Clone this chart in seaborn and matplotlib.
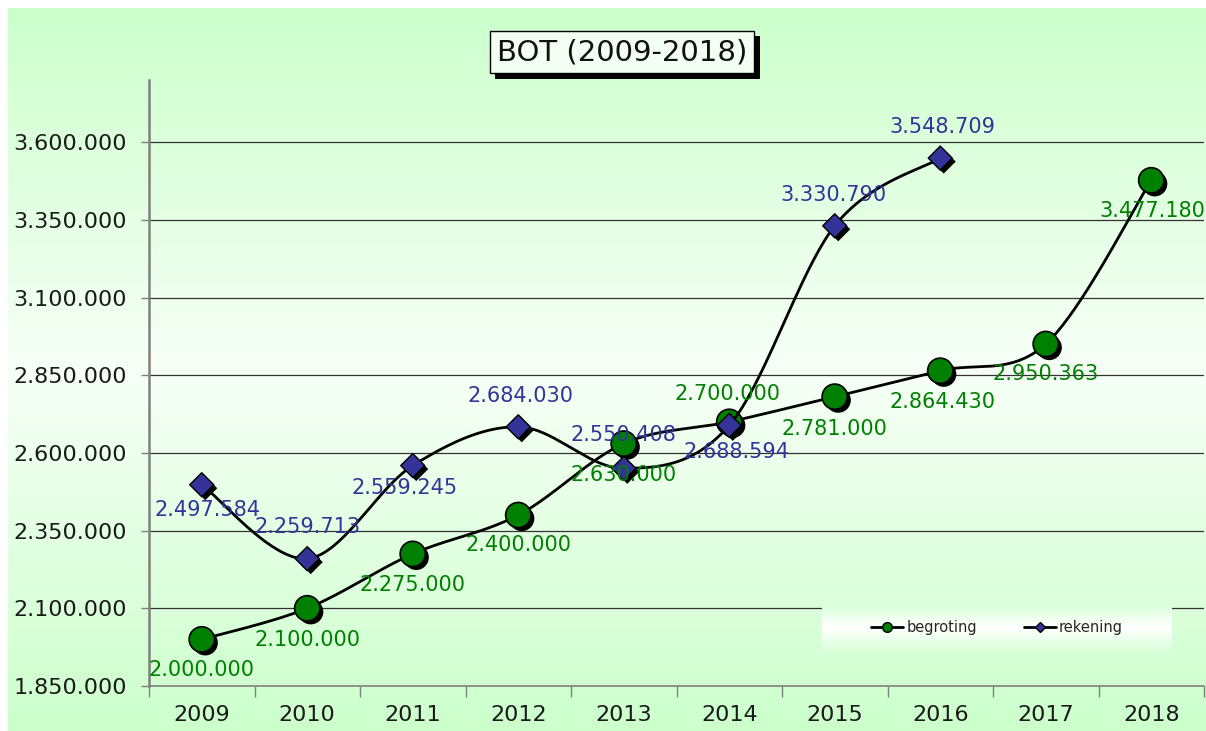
import numpy as np
import pandas as pd
import matplotlib
matplotlib.use("Agg")
import matplotlib.pyplot as plt
import matplotlib.patheffects as pe
from matplotlib.lines import Line2D
from matplotlib.colors import LinearSegmentedColormap
import seaborn as sns

# ---------------- data ----------------
years = ["2009", "2010", "2011", "2012", "2013", "2014", "2015", "2016", "2017", "2018"]
begroting = [2000000, 2100000, 2275000, 2400000, 2630000, 2700000, 2781000, 2864430, 2950363, 3477180]
rekening = [2497584, 2259713, 2559245, 2684030, 2550408, 2688594, 3330790, 3548709]
yticks = [1850000, 2100000, 2350000, 2600000, 2850000, 3100000, 3350000, 3600000]
title = "BOT (2009-2018)"

# label placement (pixel offsets dx, dy; dy positive = up)
beg_offsets = [(0, -31), (0, -32), (0, -31), (0, -30), (0, -31), (-2, 28), (0, -32), (2, -31), (0, -30), (1, -31)]
rek_offsets = [(6, -25), (0, 32), (-8, -22), (2, 31), (0, 33), (7, -27), (-1, 31), (2, 31)]

GREEN = "#008000"
BLUE = "#333399"


def fmt(v):
    return f"{v:,.0f}".replace(",", ".")


def smooth(vals, steps=40):
    """Excel-like smoothed line (Catmull-Rom / Bezier with 1/6 tangents)."""
    x = np.arange(len(vals), dtype=float)
    y = np.asarray(vals, dtype=float)
    n = len(x)
    xs, ys = [], []
    for i in range(n - 1):
        p0 = np.array([x[max(i - 1, 0)], y[max(i - 1, 0)]])
        p1 = np.array([x[i], y[i]])
        p2 = np.array([x[i + 1], y[i + 1]])
        p3 = np.array([x[min(i + 2, n - 1)], y[min(i + 2, n - 1)]])
        c1 = p1 + (p2 - p0) / 6.0
        c2 = p2 - (p3 - p1) / 6.0
        t = np.linspace(0, 1, steps)[:, None]
        pts = ((1 - t) ** 3) * p1 + 3 * ((1 - t) ** 2) * t * c1 + 3 * (1 - t) * t ** 2 * c2 + t ** 3 * p2
        if i > 0:
            pts = pts[1:]
        xs.extend(pts[:, 0])
        ys.extend(pts[:, 1])
    return np.array(xs), np.array(ys)


sns.set_theme(style="white")
plt.rcParams["font.family"] = ["DejaVu Sans"]

W, H = 1206, 731
fig = plt.figure(figsize=(W / 100, H / 100), dpi=100)
fig.patch.set_facecolor("white")

# background gradient (whole chart area)
bg = fig.add_axes([8 / W, 0, 1 - 8 / W, 1 - 8 / H])
bg.set_axis_off()
cmap = LinearSegmentedColormap.from_list(
    "bg", [(0.0, "#ccffcc"), (0.5, "#f7fff7"), (1.0, "#ccffcc")])
grad = np.linspace(0, 1, 256)[:, None]
bg.imshow(grad, aspect="auto", cmap=cmap, extent=[0, 1, 0, 1], origin="upper")
bg.set_zorder(-10)

left, right, top, bottom = 149, 1204, 80, 686
ax = fig.add_axes([left / W, 1 - bottom / H, (right - left) / W, (bottom - top) / H])
ax.patch.set_alpha(0)

x_idx = np.arange(len(years))

# begroting
bx, by = smooth(begroting)
sns.lineplot(x=bx, y=by, sort=False, estimator=None, color="black", lw=2.0, ax=ax, zorder=3)
sc1 = ax.scatter(x_idx, begroting, s=330, marker="o", facecolor=GREEN, edgecolor="black",
                 linewidth=1.2, zorder=4)
sc1.set_path_effects([pe.SimplePatchShadow(offset=(2.5, -2.5), shadow_rgbFace="black", alpha=1), pe.Normal()])

# rekening
rx, ry = smooth(rekening)
sns.lineplot(x=rx, y=ry, sort=False, estimator=None, color="black", lw=2.0, ax=ax, zorder=5)
sc2 = ax.scatter(x_idx[:len(rekening)], rekening, s=150, marker="D", facecolor=BLUE,
                 edgecolor="black", linewidth=1.0, zorder=6)
sc2.set_path_effects([pe.SimplePatchShadow(offset=(2.5, -2.5), shadow_rgbFace="black", alpha=1), pe.Normal()])

# data labels
for i, v in enumerate(begroting):
    dx, dy = beg_offsets[i]
    ax.annotate(fmt(v), (i, v), xytext=(dx * 0.72, dy * 0.72), textcoords="offset points",
                ha="center", va="center", color=GREEN, fontsize=15, zorder=10)
for i, v in enumerate(rekening):
    dx, dy = rek_offsets[i]
    ax.annotate(fmt(v), (i, v), xytext=(dx * 0.72, dy * 0.72), textcoords="offset points",
                ha="center", va="center", color=BLUE, fontsize=15, zorder=10)

# axes
ax.set_xlim(-0.5, len(years) - 0.5)
ax.set_ylim(1850000, 3800000)
ax.set_yticks(yticks)
ax.set_yticklabels([fmt(t) for t in yticks])
ax.set_xticks(x_idx)
ax.set_xticklabels(years)
ax.set_xticks(np.arange(-0.5, len(years), 1.0), minor=True)
ax.tick_params(axis="x", which="major", length=0, pad=14, labelsize=16, labelcolor="#1a1a1a")
ax.tick_params(axis="x", which="minor", length=8, width=1, color="#808080", direction="out", bottom=True)
ax.tick_params(axis="y", length=6, width=1, color="#808080", direction="out", left=True,
               pad=10, labelsize=16, labelcolor="#1a1a1a")
ax.yaxis.grid(True, color="#333333", lw=0.9)
ax.xaxis.grid(False)
ax.set_axisbelow(True)
for s in ["top", "right"]:
    ax.spines[s].set_visible(False)
ax.spines["left"].set_color("#808080")
ax.spines["left"].set_linewidth(1.8)
ax.spines["bottom"].set_color("#808080")
ax.spines["bottom"].set_linewidth(1.2)
ax.set_xlabel("")
ax.set_ylabel("")

# legend background (gradient box)
lx0, lx1, ly0, ly1 = 822, 1172, 603, 652
lcm = LinearSegmentedColormap.from_list("lg", [(0, "#d8ffd8"), (0.5, "#ffffff"), (1, "#d8ffd8")])
ax.imshow(grad, aspect="auto", cmap=lcm, origin="upper", zorder=8,
          extent=[(lx0 - left) / (right - left), (lx1 - left) / (right - left),
                  (bottom - ly1) / (bottom - top), (bottom - ly0) / (bottom - top)],
          transform=ax.transAxes)
ax.set_xlim(-0.5, len(years) - 0.5)
ax.set_ylim(1850000, 3800000)
handles = [
    Line2D([0], [0], color="black", lw=2, marker="o", markersize=7, markerfacecolor=GREEN, markeredgecolor="black"),
    Line2D([0], [0], color="black", lw=2, marker="D", markersize=5, markerfacecolor=BLUE, markeredgecolor="black"),
]
leg = ax.legend(handles, ["begroting", "rekening"], ncol=2, frameon=False, fontsize=10.5,
                loc="center", bbox_to_anchor=(((lx0 + lx1) / 2 - left) / (right - left),
                                              (bottom - (ly0 + ly1) / 2) / (bottom - top)),
                handlelength=2.2, handletextpad=0.2, columnspacing=3.2)
leg.set_zorder(9)

# title
t = fig.text(622 / W, 1 - 52 / H, title, ha="center", va="center", fontsize=21, color="#111111",
             bbox=dict(boxstyle="square,pad=0.25", facecolor="#f2fff2", edgecolor="black", linewidth=1))
t.get_bbox_patch().set_path_effects([pe.SimplePatchShadow(offset=(4, -4), shadow_rgbFace="black", alpha=1), pe.Normal()])

fig.savefig("out.png", dpi=100)
